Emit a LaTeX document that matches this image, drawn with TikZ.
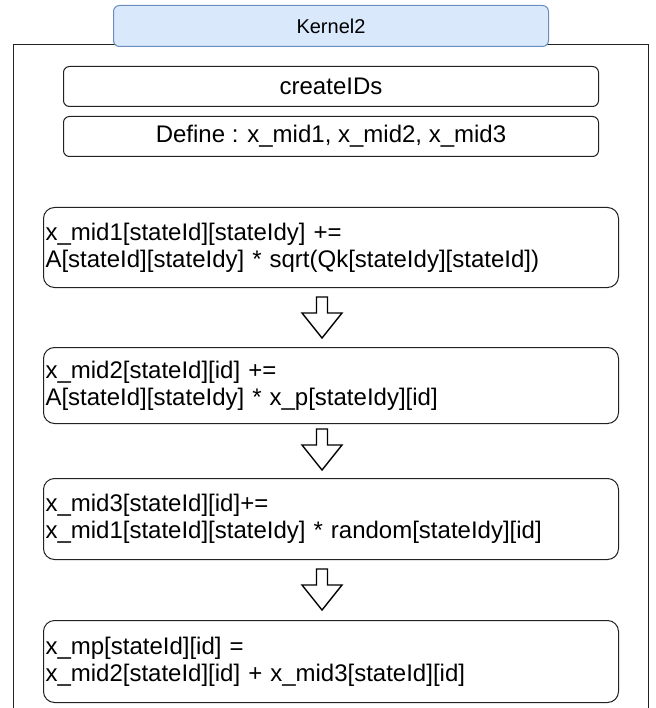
\documentclass[tikz,border=0pt]{standalone}
\usepackage{fontspec}
\setmainfont{Liberation Sans}
\usetikzlibrary{positioning}
\definecolor{hdrfill}{HTML}{DAE8FC}
\definecolor{hdrdraw}{HTML}{6C8EBF}
\definecolor{edge}{HTML}{222222}
\tikzset{
  frameline/.style={draw=edge, line width=1pt},
  header/.style={draw=hdrdraw, fill=hdrfill, rounded corners=6pt, line width=1pt,
    minimum width=435pt, minimum height=41pt, anchor=north west, inner sep=0pt,
    font=\fontsize{20}{24}\selectfont},
  tagbox/.style={draw=edge, rounded corners=6pt, line width=1pt,
    minimum width=535pt, minimum height=40pt, anchor=north west, inner sep=0pt,
    font=\fontsize{24}{28}\selectfont},
  codebox/.style={draw=edge, rounded corners=11pt, line width=1pt,
    anchor=north west, minimum width=575pt, text width=571pt, inner sep=2pt,
    align=left, font=\fontsize{24}{27}\selectfont},
  blockarrow/.style={draw=black, fill=white, line width=1.4pt, line join=miter},
  downarrow/.pic={
    \draw[blockarrow] (-5.5,0) -- (5.5,0) -- (5.5,16) -- (20,16) -- (0,41)
      -- (-20,16) -- (-5.5,16) -- cycle;
  }
}
\begin{document}
\begin{tikzpicture}[x=1pt, y=-1pt]
\useasboundingbox (0,0) rectangle (655,708);
% open outer frame of the kernel
\coordinate (fbl) at (13,708);
\coordinate (ftl) at (13,45);
\coordinate (ftr) at (648,45);
\coordinate (fbr) at (648,708);
\draw[frameline] (fbl) -- (ftl) -- (ftr) -- (fbr);
% kernel title tab
\node[header] (title) at (113,5) {Kernel2};
% setup steps
\node[tagbox] (ids) at (63,66) {createIDs};
\node[tagbox] (def) at (63,116) {Define : x\_mid1, x\_mid2, x\_mid3};
% computation steps
\node[codebox, minimum height=80pt] (s1) at (43,207)
  {x\_mid1[stateId][stateIdy] +=\\A[stateId][stateIdy] * sqrt(Qk[stateIdy][stateId])};
\node[codebox, minimum height=76pt] (s2) at (43,347)
  {x\_mid2[stateId][id] +=\\A[stateId][stateIdy] * x\_p[stateIdy][id]};
\node[codebox, minimum height=81pt] (s3) at (43,478)
  {x\_mid3[stateId][id]+=\\x\_mid1[stateId][stateIdy] * random[stateIdy][id]};
\node[codebox, minimum height=82pt] (s4) at (43,620)
  {x\_mp[stateId][id] =\\x\_mid2[stateId][id] + x\_mid3[stateId][id]};
% flow arrows between steps
\pic at (322,297) {downarrow};
\pic at (322,429) {downarrow};
\pic at (322,569) {downarrow};
\end{tikzpicture}
\end{document}
